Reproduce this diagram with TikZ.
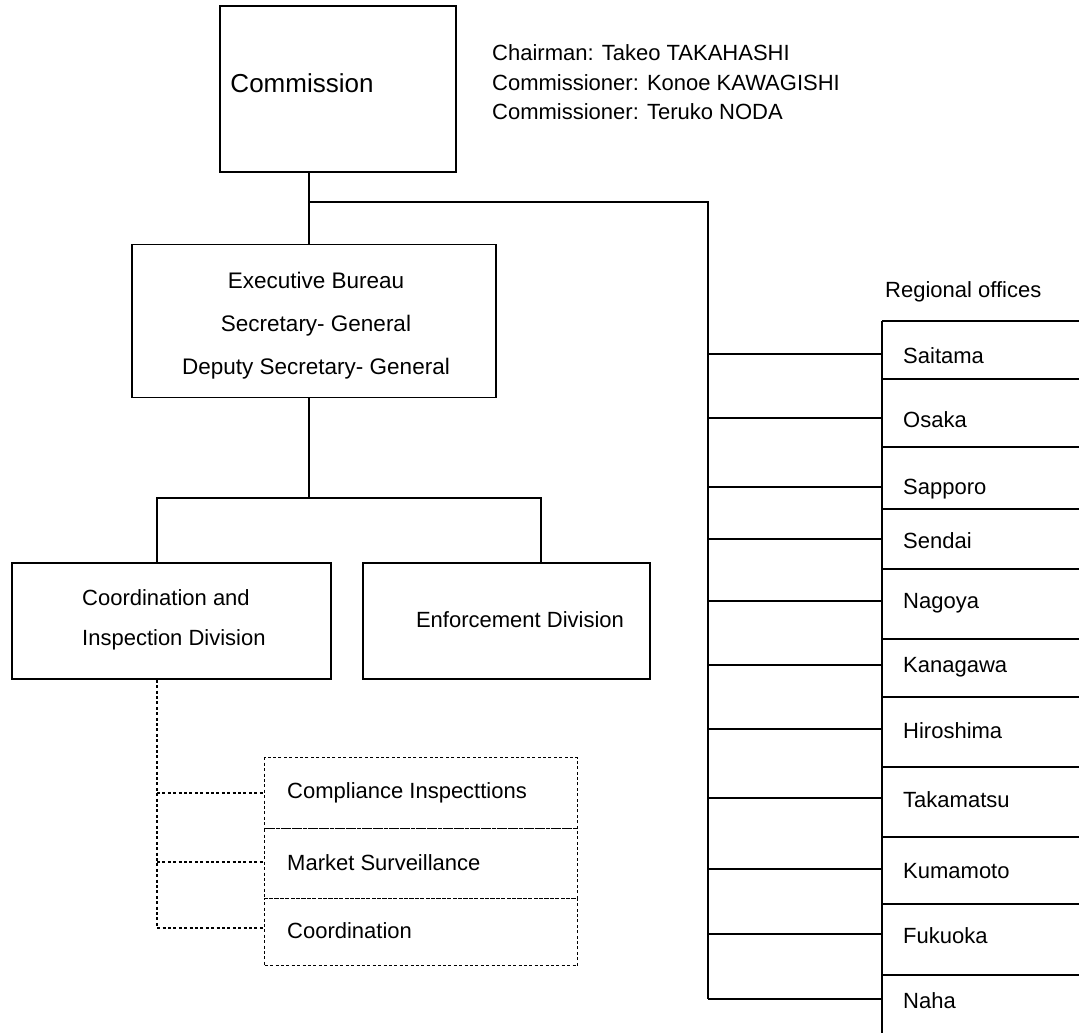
\documentclass[tikz,border=0pt]{standalone}
\usepackage{fontspec}
\setmainfont{Liberation Sans}
\begin{document}
\begin{tikzpicture}[x=1pt,y=-1pt,
  box/.style={draw, line width=1.7pt, inner sep=0pt},
  subbox/.style={draw, line width=1.4pt, dash pattern=on 3pt off 2.4pt, inner sep=0pt},
  link/.style={line width=1.4pt},
  dotlink/.style={line width=1.4pt, dash pattern=on 3pt off 2.4pt},
  txt/.style={font=\fontsize{22}{26}\selectfont, inner sep=0pt},
]
\useasboundingbox (0,0) rectangle (1079,1033);

% Commission and its members
\node[box, line width=2.4pt, minimum width=236pt, minimum height=166pt] (comm) at (338,89) {};
\node[txt, font=\fontsize{26}{30}\selectfont] (commtxt) at (302,83) {Commission};
\node[txt, anchor=west] (chair) at (492,53) {Chairman: Takeo TAKAHASHI};
\node[txt, anchor=west] (memb1) at (492,83) {Commissioner: Konoe KAWAGISHI};
\node[txt, anchor=west] (memb2) at (492,112) {Commissioner: Teruko NODA};

% Executive Bureau
\node[box, minimum width=364pt, minimum height=153pt] (exec) at (314,321) {};
\node[txt, align=center, font=\fontsize{22.5}{43}\selectfont] (exectxt) at (316,326)
  {Executive Bureau\\Secretary- General\\Deputy Secretary- General};

% Divisions
\node[box, minimum width=319pt, minimum height=116pt] (coord) at (171.5,621) {};
\node[txt, anchor=west, align=left, font=\fontsize{22}{40}\selectfont] (coordtxt) at (82,620)
  {Coordination and\\Inspection Division};
\node[box, minimum width=287pt, minimum height=116pt] (enf) at (506.5,621) {};
\node[txt] (enftxt) at (520,620) {Enforcement Division};

% Sections under the Coordination and Inspection Division
\node[subbox, minimum width=313pt, minimum height=71pt, anchor=north west] (s1) at (264,757) {};
\node[subbox, minimum width=313pt, minimum height=70pt, anchor=north west] (s2) at (264,828) {};
\node[subbox, minimum width=313pt, minimum height=67pt, anchor=north west] (s3) at (264,898) {};
\node[txt, anchor=west] (s1t) at (287,793) {Compliance Inspecttions};
\node[txt, anchor=west] (s2t) at (287,863) {Market Surveillance};
\node[txt, anchor=west] (s3t) at (287,931) {Coordination};

% Regional offices
\node[txt, anchor=west] (regtitle) at (885,292) {Regional offices};
\foreach \name/\t/\b/\c [count=\i] in {
  Saitama/321/379/354, Osaka/379/447/418, Sapporo/447/509/487,
  Sendai/509/569/539, Nagoya/569/639/601, Kanagawa/639/697/665,
  Hiroshima/697/767/729, Takamatsu/767/837/798, Kumamoto/837/904/869,
  Fukuoka/904/975/934, Naha/975/1033/999} {
  \node[inner sep=0pt, minimum width=197pt, minimum height={(\b-\t)*1pt}, anchor=north west] (r\i) at (882,\t) {};
  \draw[link] (r\i.north west) -- (r\i.north east);
  \node[txt, anchor=west] (rt\i) at (903,{\c+2}) {\name};
  \coordinate (b\i) at (708,\c);
  \draw[link] (b\i) -- (b\i -| r\i.west);
}
\draw[link] (r1.north west) -- (r11.south west);

% Main connectors
\coordinate (jct) at (309,202);
\coordinate (busturn) at (708,202);
\draw[link] (comm.south -| jct) -- (jct) -- (exec.north -| jct);
\draw[link] (jct) -- (busturn) -- (b11);

\coordinate (tee) at (309,498);
\coordinate (teeL) at (157,498);
\coordinate (teeR) at (541,498);
\draw[link] (exec.south -| tee) -- (tee);
\draw[link] (coord.north -| teeL) -- (teeL) -- (teeR) -- (enf.north -| teeR);

% Dotted links to the sections
\coordinate (d1) at (157,793);
\coordinate (d2) at (157,862);
\coordinate (d3) at (157,928);
\draw[dotlink] (coord.south -| d3) -- (d3) -- (d3 -| s3.west);
\draw[dotlink] (d1) -- (d1 -| s1.west);
\draw[dotlink] (d2) -- (d2 -| s2.west);
\end{tikzpicture}
\end{document}
